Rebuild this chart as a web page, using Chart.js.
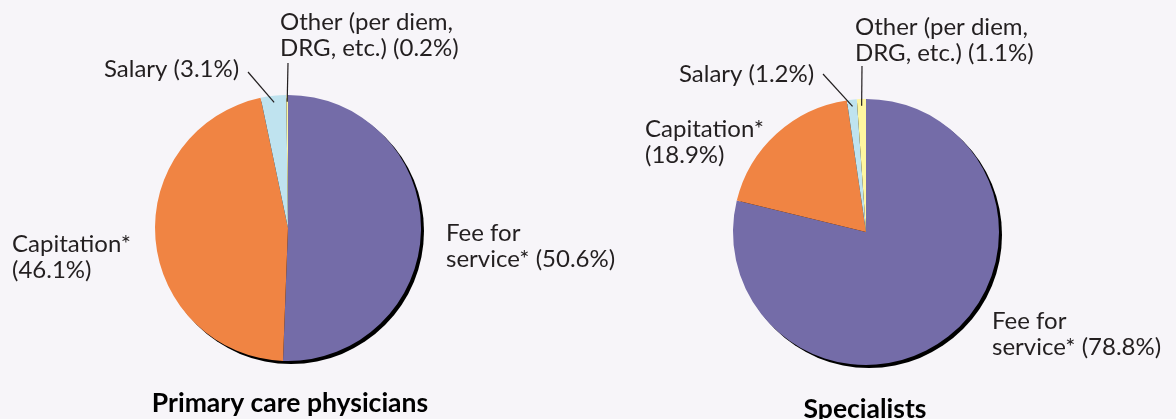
<!DOCTYPE html>
<html>
<head>
<meta charset="utf-8">
<script src="https://cdn.jsdelivr.net/npm/chart.js@4.4.0/dist/chart.umd.min.js"></script>
<style>
  html, body { margin: 0; padding: 0; background: #f7f5f9; }
  #wrap { position: relative; width: 1176px; height: 419px; overflow: hidden; }
  canvas { position: absolute; top: 0; left: 0; }
</style>
</head>
<body>
<div id="wrap">
  <canvas id="pcpChart" width="1176" height="419"></canvas>
  <canvas id="specChart" width="1176" height="419"></canvas>
</div>
<script>
// Data
const categories = ['Fee for service*', 'Capitation*', 'Salary', 'Other (per diem, DRG, etc.)'];
const primaryCareValues = [50.6, 46.1, 3.1, 0.2];
const specialistValues = [78.8, 18.9, 1.2, 1.1];
const chartTitles = ['Primary care physicians', 'Specialists'];
const sliceColors = ['#746ca8', '#f08443', '#bfe3ef', '#fff6a0'];

const LABEL_FONT = '24px Lato';
const TITLE_FONT = 'bold 26.5px Lato';

// label text split over lines, as in the printed figure
function labelLines(i, v) {
    const pct = '(' + v.toFixed(1) + '%)';
    if (i === 0) return ['Fee for', 'service* ' + pct];
    if (i === 1) return ['Capitation*', pct];
    if (i === 2) return ['Salary ' + pct];
    return ['Other (per diem,', 'DRG, etc.) ' + pct];
}

// where each label sits (px): text x, first baseline, optional leader start
const pcpLabelPos = [
    { x: 446, y: 241 },
    { x: 12, y: 252 },
    { x: 104, y: 77, lx: 248, ly: 72 },
    { x: 280, y: 30, lx: 288, ly: 63 }
];
const specLabelPos = [
    { x: 992, y: 329 },
    { x: 645, y: 137 },
    { x: 679, y: 82, lx: 823, ly: 74 },
    { x: 855, y: 35, lx: 862, ly: 66 }
];

// black drop shadow rim behind the pie
const shadowPlugin = {
    id: 'pieShadow',
    beforeDatasetsDraw(chart) {
        const arc = chart.getDatasetMeta(0).data[0];
        if (!arc) return;
        const ctx = chart.ctx;
        ctx.save();
        ctx.fillStyle = '#000';
        ctx.beginPath();
        ctx.arc(arc.x + 3, arc.y + 3, arc.outerRadius, 0, Math.PI * 2);
        ctx.fill();
        ctx.restore();
    }
};

// slice labels, leader lines and bottom title
const labelPlugin = {
    id: 'sliceLabels',
    afterDatasetsDraw(chart, args, opts) {
        const ctx = chart.ctx;
        const meta = chart.getDatasetMeta(0);
        const values = chart.data.datasets[0].data;
        ctx.save();
        ctx.fillStyle = '#231f20';
        ctx.strokeStyle = '#231f20';
        ctx.lineWidth = 1.2;
        ctx.font = LABEL_FONT;
        ctx.textBaseline = 'alphabetic';
        meta.data.forEach((arc, i) => {
            const pos = opts.positions[i];
            labelLines(i, values[i]).forEach((line, k) => {
                ctx.fillText(line, pos.x, pos.y + k * 26);
            });
            if (pos.lx !== undefined) {
                const mid = (arc.startAngle + arc.endAngle) / 2;
                const r = arc.outerRadius * 0.95;
                ctx.beginPath();
                ctx.moveTo(pos.lx, pos.ly);
                ctx.lineTo(arc.x + r * Math.cos(mid), arc.y + r * Math.sin(mid));
                ctx.stroke();
            }
        });
        const first = meta.data[0];
        ctx.font = TITLE_FONT;
        ctx.textAlign = 'center';
        ctx.fillStyle = '#000';
        ctx.fillText(opts.title, first.x + opts.titleDx, opts.titleY);
        ctx.restore();
    }
};

function makePie(id, values, positions, title, padding, titleY, titleDx) {
    return new Chart(document.getElementById(id), {
        type: 'pie',
        data: {
            labels: categories,
            datasets: [{
                data: values,
                backgroundColor: sliceColors,
                borderWidth: 0
            }]
        },
        options: {
            responsive: false,
            animation: false,
            layout: { padding: padding },
            plugins: {
                legend: { display: false },
                tooltip: { enabled: false },
                sliceLabels: { positions: positions, title: title, titleY: titleY, titleDx: titleDx }
            }
        },
        plugins: [shadowPlugin, labelPlugin]
    });
}

makePie('pcpChart', primaryCareValues, pcpLabelPos, chartTitles[0],
    { left: 155, right: 755, top: 95, bottom: 58 }, 412, 2);
makePie('specChart', specialistValues, specLabelPos, chartTitles[1],
    { left: 733, right: 177, top: 99, bottom: 54 }, 418, -1);
</script>
</body>
</html>
